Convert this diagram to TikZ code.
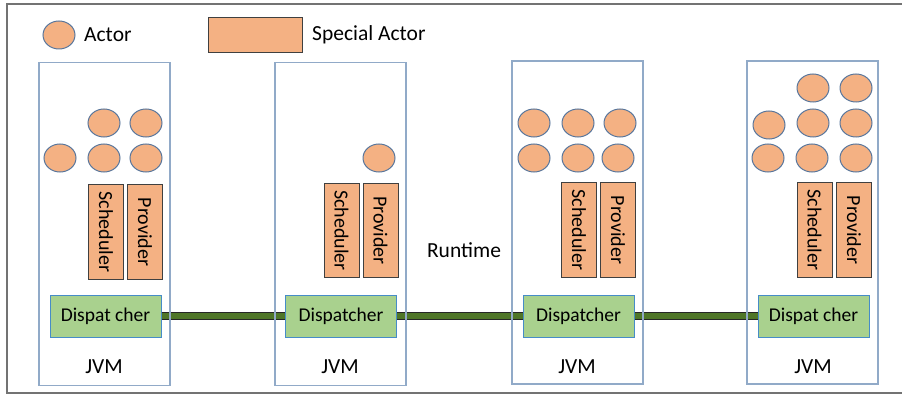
\documentclass[tikz,border=0pt]{standalone}
\usepackage{fontspec}
\setmainfont{Carlito}
\usepackage{tikz}
\usetikzlibrary{shapes.geometric}
\usepackage{xcolor}

\definecolor{actorfill}{RGB}{244,177,131}
\definecolor{actorline}{RGB}{88,118,156}
\definecolor{jvmline}{RGB}{145,170,200}
\definecolor{dispfill}{RGB}{169,209,142}
\definecolor{displine}{RGB}{70,140,200}
\definecolor{busgreen}{RGB}{79,118,40}

\tikzset{
  actor/.style={ellipse, draw=actorline, line width=1pt, fill=actorfill,
    minimum width=32pt, minimum height=28pt, inner sep=0pt},
  special/.style={draw=black!75, line width=1pt, fill=actorfill,
    minimum width=94pt, minimum height=35pt, inner sep=0pt},
  role/.style={special, rotate=-90, font=\fontsize{20}{24}\selectfont},
  jvmbox/.style={draw=jvmline, line width=1.2pt, minimum width=131pt,
    minimum height=323pt, inner sep=0pt},
  dispatcher/.style={draw=displine, line width=1pt, fill=dispfill,
    minimum width=111pt, minimum height=42pt, inner sep=0pt,
    font=\fontsize{19.5}{23}\selectfont},
  bus/.style={draw=black!85, line width=1.4pt, double=busgreen,
    double distance=5.6pt},
  label/.style={font=\fontsize{21.5}{25}\selectfont, inner sep=0pt}
}

\begin{document}
\begin{tikzpicture}[x=1pt, y=-1pt]
\useasboundingbox (0,0) rectangle (902,398);
\draw[black!55, line width=1.3pt] (902,4) -- (7,4) -- (7,393) -- (902,393);

% legend
\node[actor] (keyactor) at (59,35) {};
\node[label, anchor=west] (keyactortext) at (84,35) {Actor};
\node[special] (keyspecial) at (255,35.5) {};
\node[label, anchor=west] (keyspecialtext) at (312,35) {Special Actor};

% dispatchers and the runtime bus
\node[dispatcher] (disp1) at (105.5,316) {Dispat cher};
\node[dispatcher] (disp2) at (341,316) {Dispatcher};
\node[dispatcher] (disp3) at (578.5,316) {Dispatcher};
\node[dispatcher] (disp4) at (813.5,316) {Dispat cher};
\draw[bus] (disp1) -- (disp2);
\draw[bus] (disp2) -- (disp3);
\draw[bus] (disp3) -- (disp4);
\node[label] (runtime) at (464,250) {Runtime};

% JVMs
\node[jvmbox] (jvm1) at (104.5,224) {};
\node[jvmbox] (jvm2) at (340.5,224) {};
\node[jvmbox] (jvm3) at (577.5,222.5) {};
\node[jvmbox] (jvm4) at (812.5,222.5) {};
\node[label] (jvmtext1) at (104,367) {JVM};
\node[label] (jvmtext2) at (340,367) {JVM};
\node[label] (jvmtext3) at (577,367) {JVM};
\node[label] (jvmtext4) at (813,367) {JVM};

% scheduler and provider
\node[role] (sched1) at (106,232) {Scheduler};
\node[role] (prov1) at (145,232) {Provider};
\node[role] (sched2) at (341.5,230.5) {Scheduler};
\node[role] (prov2) at (380.5,230.5) {Provider};
\node[role] (sched3) at (579,230) {Scheduler};
\node[role] (prov3) at (618,230) {Provider};
\node[role] (sched4) at (814.5,230) {Scheduler};
\node[role] (prov4) at (854,230) {Provider};

% actors, first JVM
\node[actor] (a1a) at (104,123) {};
\node[actor] (a1b) at (146,123) {};
\node[actor] (a1c) at (60,158) {};
\node[actor] (a1d) at (104,158) {};
\node[actor] (a1e) at (146,158) {};
% actors, second JVM
\node[actor] (a2a) at (379,158) {};
% actors, third JVM
\node[actor] (a3a) at (534,123) {};
\node[actor] (a3b) at (578,123) {};
\node[actor] (a3c) at (620,123) {};
\node[actor] (a3d) at (534,158) {};
\node[actor] (a3e) at (578,158) {};
\node[actor] (a3f) at (618,158) {};
% actors, fourth JVM
\node[actor] (a4a) at (813,88) {};
\node[actor] (a4b) at (856,88) {};
\node[actor] (a4c) at (769,125) {};
\node[actor] (a4d) at (813,123) {};
\node[actor] (a4e) at (856,123) {};
\node[actor] (a4f) at (768,158) {};
\node[actor] (a4g) at (812,158) {};
\node[actor] (a4h) at (856,158) {};
\end{tikzpicture}
\end{document}
